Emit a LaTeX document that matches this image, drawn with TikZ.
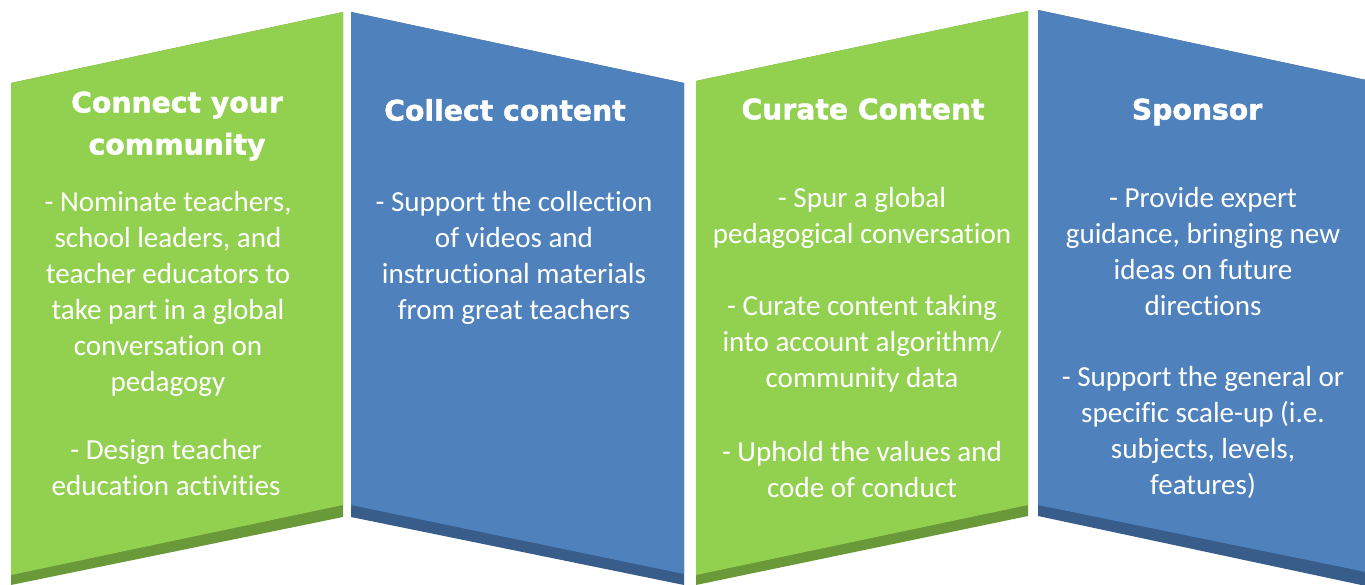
\documentclass[tikz,border=0pt]{standalone}
\usepackage{fontspec}
\setmainfont[Ligatures=NoCommon]{Carlito}
\newfontfamily\headfont[BoldFeatures={FakeBold=1.6}]{DejaVu Sans}
\usetikzlibrary{positioning}

\definecolor{leaf}{HTML}{92D050}
\definecolor{leafdark}{HTML}{6A9939}
\definecolor{sky}{HTML}{4F81BD}
\definecolor{skydark}{HTML}{385D8A}

\tikzset{
  greenpanel/.style={fill=leaf},
  greenfoot/.style={fill=leafdark},
  bluepanel/.style={fill=sky},
  bluefoot/.style={fill=skydark},
  title/.style={text=white, align=center, inner sep=0pt, font=\headfont\bfseries\fontsize{21.2}{31.5}\selectfont},
  body/.style={text=white, align=center, inner sep=0pt, font=\fontsize{21.8}{27}\selectfont}
}

\begin{document}
\begin{tikzpicture}[x=0.75pt,y=-0.75pt]
\useasboundingbox (0,0) rectangle (1365,585);
% panels, shadow first
\fill[greenfoot] (11,83) -- (343,12) -- (343,517) -- (11,585) -- cycle;
\fill[greenpanel] (11,83) -- (343,12) -- (343,505) -- (11,575) -- cycle;
\fill[bluefoot] (351,12) -- (684,83) -- (684,585) -- (351,517) -- cycle;
\fill[bluepanel] (351,12) -- (684,83) -- (684,574) -- (351,505) -- cycle;
\fill[greenfoot] (696,81) -- (1028,11) -- (1028,516) -- (696,585) -- cycle;
\fill[greenpanel] (696,81) -- (1028,11) -- (1028,505) -- (696,575) -- cycle;
\fill[bluefoot] (1038,10) -- (1366,80) -- (1366,586) -- (1038,516) -- cycle;
\fill[bluepanel] (1038,10) -- (1366,80) -- (1366,572) -- (1038,505) -- cycle;

% titles
\node[title] (connect) at (177,126) {Connect your\\community};
\node[title] (collect) at (505,110) {Collect content};
\node[title] (curate) at (863,109) {Curate Content};
\node[title] (sponsor) at (1197,112) {Sponsor};

% texts
\node[body] (nominate) at (168,294) {- Nominate teachers,\\school leaders, and\\teacher educators to\\take part in a global\\conversation on\\pedagogy};
\node[body] (design) at (166,468) {- Design teacher\\education activities};
\node[body] (support) at (514,258) {- Support the collection\\of videos and\\instructional materials\\from great teachers};
\node[body] (spur) at (862,218) {- Spur a global\\pedagogical conversation};
\node[body] (curatetxt) at (862,344) {- Curate content taking\\into account algorithm/\\community data};
\node[body] (uphold) at (862,470) {- Uphold the values and\\code of conduct};
\node[body] (provide) at (1203,252) {- Provide expert\\guidance, bringing new\\ideas on future\\directions};
\node[body] (scale) at (1203,432) {- Support the general or\\specific scale-up (i.e.\\subjects, levels,\\features)};
\end{tikzpicture}
\end{document}
